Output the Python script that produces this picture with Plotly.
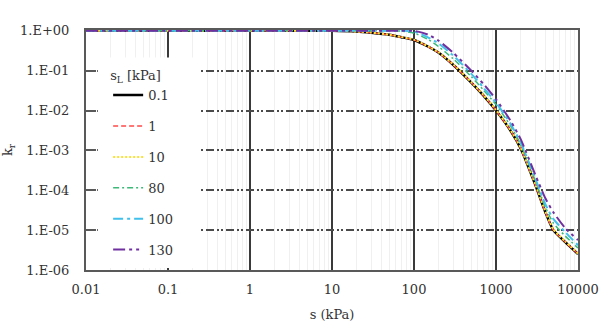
import plotly.graph_objects as go

# suction values (kPa)
s_vals = [0.01, 0.1, 1, 10, 20, 30, 50, 70, 100, 150, 200, 300, 500, 700,
          1000, 1500, 2000, 3000, 4000, 5000, 7000, 10000]

# relative permeability kr for each sL series
kr_01 = [1, 1, 1, 1, 0.955, 0.891, 0.794, 0.692, 0.589, 0.398, 0.282, 0.141,
         0.0501, 0.024, 0.0100, 0.00316, 0.00112, 1.41e-4, 2.82e-5, 1.00e-5, 5.0e-6, 2.51e-6]
kr_1 = [1, 1, 1, 1, 0.955, 0.891, 0.794, 0.692, 0.589, 0.398, 0.282, 0.141,
        0.0505, 0.0242, 0.0101, 0.00318, 0.00113, 1.42e-4, 2.85e-5, 1.01e-5, 5.05e-6, 2.53e-6]
kr_10 = [1, 1, 1, 1, 0.96, 0.90, 0.80, 0.70, 0.60, 0.405, 0.288, 0.145,
         0.0515, 0.0248, 0.0104, 0.00325, 0.00116, 1.46e-4, 2.95e-5, 1.05e-5, 5.2e-6, 2.6e-6]
kr_80 = [1, 1, 1, 1, 1, 1, 1, 0.977, 0.871, 0.603, 0.398, 0.200,
         0.0708, 0.0331, 0.0141, 0.00417, 0.00141, 1.78e-4, 3.80e-5, 1.51e-5, 7.08e-6, 3.55e-6]
kr_100 = [1, 1, 1, 1, 1, 1, 1, 1, 0.955, 0.676, 0.479, 0.240,
          0.0832, 0.0380, 0.0158, 0.00468, 0.00158, 2.00e-4, 4.47e-5, 1.91e-5, 8.91e-6, 4.17e-6]
kr_130 = [1, 1, 1, 1, 1, 1, 1, 1, 1, 0.794, 0.562, 0.282,
          0.100, 0.0468, 0.0191, 0.00562, 0.00191, 2.51e-4, 6.31e-5, 2.82e-5, 1.12e-5, 5.62e-6]

series_names = ["0.1", "1", "10", "80", "100", "130"]
series_data = [kr_01, kr_1, kr_10, kr_80, kr_100, kr_130]

y_tickvals = [1, 1e-1, 1e-2, 1e-3, 1e-4, 1e-5, 1e-6]
y_ticktext = ["1.E+00", "1.E-01", "1.E-02", "1.E-03", "1.E-04", "1.E-05", "1.E-06"]
x_tickvals = [0.01, 0.1, 1, 10, 100, 1000, 10000]
x_ticktext = ["0.01", "0.1", "1", "10", "100", "1000", "10000"]

styles = [
    dict(color="#000000", width=2.5, dash="solid"),
    dict(color="#FF4A4A", width=1.5, dash="5px,3px"),
    dict(color="#FFE030", width=2, dash="2px,2px"),
    dict(color="#3CB878", width=1.5, dash="6px,3px,2px,3px"),
    dict(color="#40C0EA", width=2, dash="10px,4px,3px,4px"),
    dict(color="#7030A0", width=2, dash="12px,4px,3px,4px,3px,4px"),
]

font_family = "DejaVu Serif"

fig = go.Figure()
for i, (name, ys) in enumerate(zip(series_names, series_data)):
    fig.add_trace(go.Scatter(
        x=s_vals, y=ys, mode="lines", name=name, legendgroup=name,
        line=dict(shape="spline", smoothing=0.6, **styles[i]),
    ))

# white patch behind legend hiding gridlines
fig.add_shape(type="rect", xref="paper", yref="paper", x0=0.024, x1=0.232,
              y0=0.008, y1=0.885, fillcolor="white", line=dict(width=0), layer="above")

fig.update_layout(
    width=600, height=332,
    margin=dict(l=86, r=22, t=30, b=62, autoexpand=False),
    paper_bgcolor="white", plot_bgcolor="white",
    font=dict(family=font_family, size=13, color="#333333"),
    showlegend=True,
    legend=dict(
        x=0.045, y=0.8615, xanchor="left", yanchor="top",
        bgcolor="rgba(255,255,255,0)",
        title=dict(text="s<sub>L</sub> [kPa]", font=dict(size=13)),
        font=dict(size=13), tracegroupgap=11,
    ),
    xaxis=dict(
        type="log", range=[-2, 4], automargin=False,
        tickvals=x_tickvals, ticktext=x_ticktext,
        showgrid=True, gridcolor="#3a3a3a", gridwidth=1.5,
        minor=dict(showgrid=True, gridcolor="#f0f0f0", gridwidth=1, dtick="D1"),
        showline=True, linecolor="#595959", linewidth=2, mirror=True,
        ticks="", zeroline=False, ticklabelstandoff=6,
        title=dict(text="s (kPa)", font=dict(size=13), standoff=14),
        tickfont=dict(size=13),
    ),
    yaxis=dict(
        type="log", range=[-6, 0.02], automargin=False,
        tickvals=y_tickvals, ticktext=y_ticktext,
        showgrid=True, gridcolor="#4a4a4a", gridwidth=1.5,
        griddash="8px,3px,2px,2px,2px,3px",
        showline=True, linecolor="#595959", linewidth=2, mirror=True,
        ticks="inside", ticklen=10, tickcolor="#595959", tickwidth=2,
        zeroline=False, ticklabelstandoff=12,
        title=dict(text="k<sub>r</sub>", font=dict(size=13), standoff=14),
        tickfont=dict(size=13),
    ),
)

fig.write_html("out.html", config={"displayModeBar": False},
               post_script="document.body.style.margin='0';")
